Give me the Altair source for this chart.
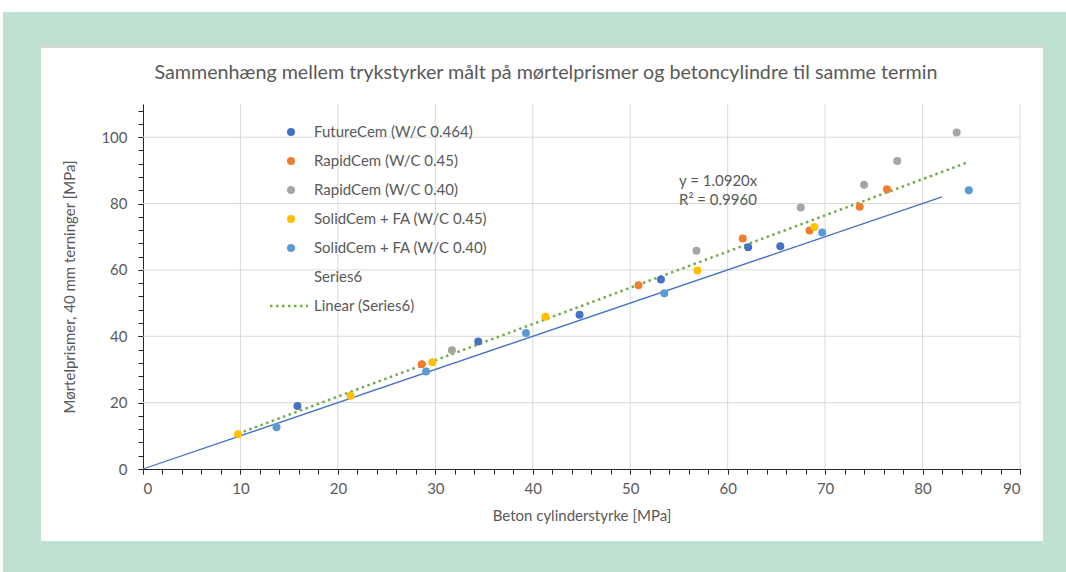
import altair as alt
import pandas as pd

# Series names and colours
series_names = [
    "FutureCem (W/C 0.464)",
    "RapidCem (W/C 0.45)",
    "RapidCem (W/C 0.40)",
    "SolidCem + FA (W/C 0.45)",
    "SolidCem + FA (W/C 0.40)",
]
series_colors = ["#4472C4", "#ED7D31", "#A5A5A5", "#FFC000", "#5B9BD5"]

# Cylinder strength (x) vs. mortar prism strength (y), MPa
future_x = [15.85, 34.4, 44.8, 53.15, 62.1, 65.4]
future_y = [19.0, 38.4, 46.5, 57.1, 66.8, 67.1]
rapid45_x = [28.6, 50.85, 61.55, 68.4, 73.55, 76.35]
rapid45_y = [31.6, 55.4, 69.5, 71.9, 79.0, 84.3]
rapid40_x = [31.7, 56.8, 67.5, 74.0, 77.4, 83.5]
rapid40_y = [35.8, 65.8, 78.8, 85.7, 92.8, 101.4]
solid45_x = [9.75, 21.3, 29.7, 41.3, 56.9, 68.9]
solid45_y = [10.5, 22.1, 32.2, 45.9, 59.8, 72.9]
solid40_x = [13.7, 29.05, 39.3, 53.5, 69.7, 84.75]
solid40_y = [12.6, 29.35, 41.0, 53.0, 71.3, 84.0]

# 1:1 reference line
ref_x = [0, 82]
ref_y = [0, 82]

# Linear trend through the origin
trend_slope = 1.0920
trend_r2 = 0.9960

x_ticks = list(range(0, 91, 10))
x_minor = list(range(0, 91, 2))
y_ticks = list(range(0, 101, 20))
y_minor = list(range(0, 111, 4))

TEXT = "#595959"
FONT = "Lato"
FS = 15
W, H = 877, 365
PAD_L, PAD_T = 143, 104

all_x = future_x + rapid45_x + rapid40_x + solid45_x + solid40_x
all_y = future_y + rapid45_y + rapid40_y + solid45_y + solid40_y
groups = sum([[n] * 6 for n in series_names], [])
points = pd.DataFrame({"x": all_x, "y": all_y, "serie": groups})

trend_df = pd.DataFrame({"x": [min(all_x), max(all_x)]})
trend_df["y"] = trend_df["x"] * trend_slope
ref_df = pd.DataFrame({"x": ref_x, "y": ref_y})

xs = alt.Scale(domain=[0, 90], nice=False, zero=False)
ys = alt.Scale(domain=[0, 110], nice=False, zero=False)

one = pd.DataFrame({"a": [0]})


def px_rect(x0, x1, y0, y1, color):
    # rectangle given in page pixels, shifted into plot coordinates
    return alt.Chart(one).mark_rect(color=color).encode(
        x=alt.value(x0 - PAD_L), x2=alt.value(x1 - PAD_L),
        y=alt.value(y0 - PAD_T), y2=alt.value(y1 - PAD_T),
    )


frame_green = "#BFE1D1"
frame = [
    px_rect(3, 1066, 12, 47, frame_green),
    px_rect(3, 1066, 541, 572, frame_green),
    px_rect(3, 41, 12, 572, frame_green),
    px_rect(1043, 1066, 12, 572, frame_green),
    px_rect(41, 1043, 46, 48, "#D9D9D9"),
]

# Gridlines
vgrid = alt.Chart(pd.DataFrame({"x": x_ticks[1:]})).mark_rule(color="#D9D9D9", strokeWidth=1).encode(
    x=alt.X("x:Q", scale=xs, axis=None), y=alt.value(0), y2=alt.value(H)
)
hgrid = alt.Chart(pd.DataFrame({"y": y_ticks[1:]})).mark_rule(color="#D9D9D9", strokeWidth=1).encode(
    y=alt.Y("y:Q", scale=ys, axis=None), x=alt.value(0), x2=alt.value(W)
)

axis_common = dict(
    grid=False, domainColor="#262626", tickColor="#262626", tickSize=5,
    labelFont=FONT, labelFontSize=FS, labelColor=TEXT,
    titleFont=FONT, titleFontSize=FS, titleColor=TEXT, titleFontWeight="normal",
)

# 1:1 line carries the minor tick axes
ref_line = alt.Chart(ref_df).mark_line(color="#4472C4", strokeWidth=1.3).encode(
    x=alt.X("x:Q", scale=xs, axis=alt.Axis(
        values=x_minor, labels=False, domain=False, orient="bottom", title=None,
        grid=False, tickColor="#262626", tickSize=5)),
    y=alt.Y("y:Q", scale=ys, axis=alt.Axis(
        values=y_minor, labels=False, domain=False, orient="left", title=None,
        grid=False, tickColor="#262626", tickSize=5)),
)

trend_line = alt.Chart(trend_df).mark_line(
    color="#70AD47", strokeWidth=2.5, strokeDash=[2.5, 3.5]
).encode(
    x=alt.X("x:Q", scale=xs, axis=None),
    y=alt.Y("y:Q", scale=ys, axis=None),
)

# Measured points carry the labelled axes
dots = alt.Chart(points).mark_circle(size=64, opacity=1).encode(
    x=alt.X("x:Q", scale=xs, axis=alt.Axis(
        values=x_ticks, orient="bottom", title="Beton cylinderstyrke [MPa]",
        labelPadding=7, titlePadding=12, **axis_common)),
    y=alt.Y("y:Q", scale=ys, axis=alt.Axis(
        values=y_ticks, orient="left", title="Mørtelprismer, 40 mm terninger  [MPa]",
        labelPadding=11, titlePadding=23, **axis_common)),
    color=alt.Color("serie:N", scale=alt.Scale(domain=series_names, range=series_colors), legend=None),
)

# Legend
leg_x, leg_y0, leg_dy = 291, 132, 29
legend_layers = []
for i, (name, col) in enumerate(zip(series_names, series_colors)):
    yy = leg_y0 + i * leg_dy - PAD_T
    legend_layers.append(alt.Chart(one).mark_circle(size=64, color=col, opacity=1).encode(
        x=alt.value(leg_x - PAD_L), y=alt.value(yy)))
    legend_layers.append(alt.Chart(one).mark_text(
        text=name, align="left", baseline="middle", font=FONT, fontSize=FS, color=TEXT
    ).encode(x=alt.value(314 - PAD_L), y=alt.value(yy)))
yy6 = leg_y0 + 5 * leg_dy - PAD_T
legend_layers.append(alt.Chart(one).mark_text(
    text="Series6", align="left", baseline="middle", font=FONT, fontSize=FS, color=TEXT
).encode(x=alt.value(314 - PAD_L), y=alt.value(yy6)))
yy7 = leg_y0 + 6 * leg_dy - PAD_T
legend_layers.append(alt.Chart(one).mark_rule(
    color="#70AD47", strokeWidth=2.5, strokeDash=[2.5, 3.5]
).encode(x=alt.value(270 - PAD_L), x2=alt.value(308 - PAD_L), y=alt.value(yy7)))
legend_layers.append(alt.Chart(one).mark_text(
    text="Linear (Series6)", align="left", baseline="middle", font=FONT, fontSize=FS, color=TEXT
).encode(x=alt.value(314 - PAD_L), y=alt.value(yy7)))

# Trend equation
eq_lines = [f"y = {trend_slope:.4f}x", f"R² = {trend_r2:.4f}"]
eq = alt.Chart(one).mark_text(
    text=eq_lines, align="left", baseline="middle", font=FONT, fontSize=FS, color=TEXT, lineHeight=19
).encode(x=alt.value(679 - PAD_L), y=alt.value(181 - PAD_T))

title = alt.Chart(one).mark_text(
    text="Sammenhæng mellem trykstyrker målt på mørtelprismer og betoncylindre til samme termin",
    align="center", baseline="middle", font=FONT, fontSize=19.7, color=TEXT,
).encode(x=alt.value(546 - PAD_L), y=alt.value(73 - PAD_T))

chart = alt.layer(
    *frame, vgrid, hgrid, ref_line, trend_line, dots, *legend_layers, eq, title
).resolve_axis(x="independent", y="independent").properties(
    width=W, height=H,
    padding={"left": PAD_L, "top": PAD_T, "right": 1066 - PAD_L - W, "bottom": 572 - PAD_T - H},
    autosize=alt.AutoSizeParams(type="none"),
    background="white",
).configure_view(stroke=None)

chart.save("out.html", embed_options={"renderer": "svg", "actions": False})
